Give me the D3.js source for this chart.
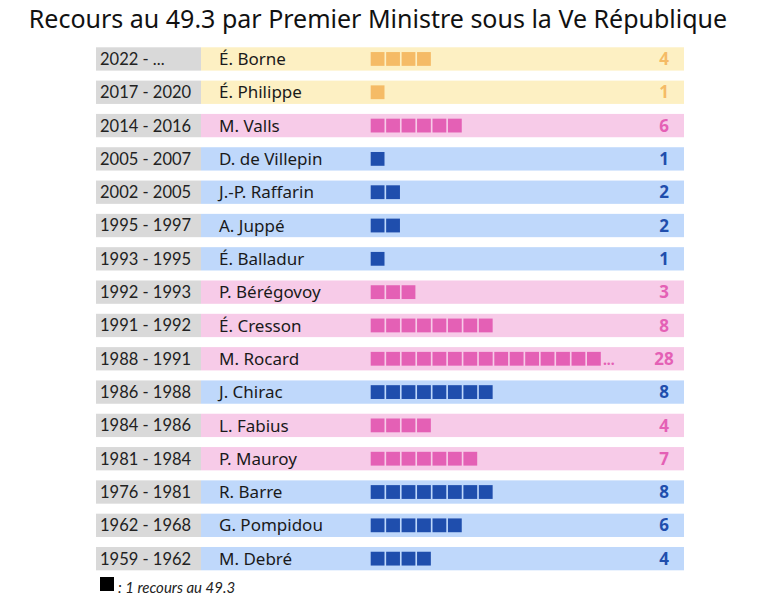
<!DOCTYPE html>
<html><head><meta charset="utf-8">
<script src="https://cdn.jsdelivr.net/npm/d3@7"></script>
<style>body{margin:0;background:#fff;}</style>
</head><body>
<svg id="c" width="768" height="601"></svg>
<script>
const periods = ["2022 - ...","2017 - 2020","2014 - 2016","2005 - 2007","2002 - 2005","1995 - 1997","1993 - 1995","1992 - 1993","1991 - 1992","1988 - 1991","1986 - 1988","1984 - 1986","1981 - 1984","1976 - 1981","1962 - 1968","1959 - 1962"];
const names = ["É. Borne","É. Philippe","M. Valls","D. de Villepin","J.-P. Raffarin","A. Juppé","É. Balladur","P. Bérégovoy","É. Cresson","M. Rocard","J. Chirac","L. Fabius","P. Mauroy","R. Barre","G. Pompidou","M. Debré"];
const counts = [4,1,6,1,2,2,1,3,8,28,8,4,7,8,6,4];
const groups = ["centre","centre","gauche","droite","droite","droite","droite","gauche","gauche","gauche","droite","gauche","gauche","droite","droite","droite"];
const maxSquares = 15;

const bg = d3.scaleOrdinal().domain(["centre","gauche","droite"]).range(["#fdf0c3","#f7cbe8","#bfd8fb"]);
const fg = d3.scaleOrdinal().domain(["centre","gauche","droite"]).range(["#f5bb66","#e460b5","#1f4ead"]);

const svg = d3.select("#c");
const rows = d3.range(periods.length);
const y = d3.scaleBand().domain(rows).range([42.3, 575.3]).paddingInner(0.3).paddingOuter(0.15);
const xs = d3.scaleLinear().domain([0, 16]).range([370.7, 370.7 + 16 * 15.45]);
const sq = 13.8;

svg.append("text").attr("x", 378).attr("y", 28).attr("text-anchor", "middle")
  .attr("font-family", "'Noto Sans', sans-serif").attr("font-size", 25).attr("fill", "#111")
  .text("Recours au 49.3 par Premier Ministre sous la Ve République");

const g = svg.selectAll("g.row").data(rows).join("g").attr("class", "row")
  .attr("transform", i => `translate(0,${y(i)})`);
const h = y.bandwidth();

g.append("rect").attr("x", 96).attr("width", 105).attr("height", h).attr("fill", "#d9d9d9");
g.append("rect").attr("x", 201).attr("width", 483).attr("height", h).attr("fill", i => bg(groups[i]));
g.append("text").attr("x", 100).attr("y", h / 2).attr("dy", "0.36em")
  .attr("font-family", "Lato, sans-serif").attr("font-size", 16.5).attr("fill", "#222")
  .text(i => periods[i]);
g.append("text").attr("x", 219).attr("y", h / 2).attr("dy", "0.36em")
  .attr("font-family", "'Noto Sans', sans-serif").attr("font-size", 17).attr("fill", "#1a1a1a")
  .text(i => names[i]);

g.each(function(i) {
  const n = Math.min(counts[i], maxSquares);
  d3.select(this).selectAll("rect.sq").data(d3.range(n)).join("rect").attr("class", "sq")
    .attr("x", k => xs(k)).attr("y", (h - sq) / 2).attr("width", sq).attr("height", sq)
    .attr("fill", fg(groups[i]));
  if (counts[i] > maxSquares) {
    d3.select(this).append("text").attr("x", xs(maxSquares) + 0.5).attr("y", h / 2 + 6)
      .attr("font-family", "'Noto Sans', sans-serif").attr("font-size", 14).attr("font-weight", "bold")
      .attr("fill", fg(groups[i])).text("...");
  }
});

g.append("text").attr("x", 664).attr("y", h / 2).attr("dy", "0.36em").attr("text-anchor", "middle")
  .attr("font-family", "'Noto Sans', sans-serif").attr("font-size", 17).attr("font-weight", "bold")
  .attr("fill", i => fg(groups[i])).text(i => counts[i]);

svg.append("rect").attr("x", 100).attr("y", 577).attr("width", 14).attr("height", 14).attr("fill", "#000");
svg.append("text").attr("x", 118).attr("y", 593)
  .attr("font-family", "Lato, sans-serif").attr("font-style", "italic").attr("font-size", 15).attr("fill", "#222")
  .text(": 1 recours au 49.3");
</script>
</body></html>
